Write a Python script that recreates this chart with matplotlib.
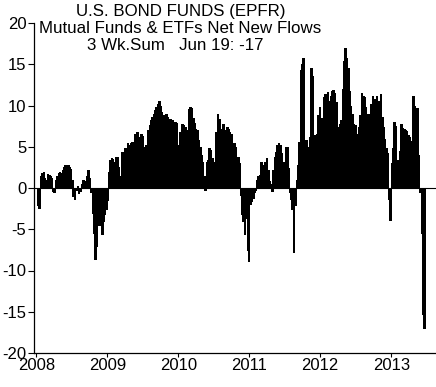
import matplotlib
matplotlib.use("Agg")
import matplotlib.pyplot as plt
import numpy as np
import pandas as pd

# Weekly 3-week-sum net new flows ($bn)
flows_2008 = [-2.0, -2.4, 1.5, 1.8, 1.9, 1.2, 1.0, 1.7, 1.6, 1.4, 1.2, -0.4, -0.5, 1.0, 1.4, 1.8,
              2.0, 1.8, 2.2, 2.6, 2.8, 2.7, 2.8, 2.6, 2.3, 1.0, -1.0, -1.3, -0.3, 0.3, -0.6, -0.4,
              0.5, 1.0, 0.8, 0.9, 1.5, 2.2, 1.2, -0.5, -3.0, -5.5, -8.6, -7.0, -4.5, -3.8, -4.5,
              -5.6, -4.0, -3.2, -2.5, -1.5]
flows_2009 = [2.0, 3.4, 3.6, 3.5, 3.2, 3.8, 3.8, 2.5, 1.4, 1.5, 4.4, 4.3, 4.8, 4.7, 5.4, 5.2,
              5.5, 5.6, 5.4, 6.6, 6.5, 6.8, 6.2, 6.0, 6.6, 6.3, 5.0, 5.2, 5.1, 7.0, 7.6, 8.2,
              8.6, 9.0, 9.4, 9.8, 10.2, 10.6, 10.0, 9.2, 8.8, 8.6, 9.0, 8.6, 8.3, 8.4, 7.9,
              8.3, 7.8, 8.0, 7.9, 5.2]
flows_2010 = [6.8, 6.8, 7.8, 7.6, 7.4, 7.0, 6.2, 9.6, 9.8, 9.7, 8.5, 7.9, 7.2, 7.0, 5.8, 5.0,
              4.0, 3.2, 1.5, -0.3, 3.2, 3.4, 4.8, 4.6, 3.6, 3.0, 3.2, 6.8, 9.0, 8.4, 7.2, 6.6,
              7.8, 6.8, 7.0, 7.4, 7.2, 6.8, 6.6, 4.4, 5.4, 5.0, 3.8, 3.8, 3.0, -0.8, -3.2,
              -4.0, -5.6, -3.6, -7.5, -8.8]
flows_2011 = [-1.9, -1.6, -1.2, -0.5, -0.2, 1.0, 1.4, 1.6, 3.2, 2.2, 2.8, 3.2, 3.6, 2.2, 0.9,
              0.5, -0.4, 2.2, 3.8, 4.4, 5.2, 5.4, 5.2, 4.2, 3.2, 3.2, 5.0, 5.0, 2.4, -0.5, -1.3,
              -2.5, -7.8, -2.0, 1.0, 2.8, 5.6, 14.3, 15.0, 15.7, 5.8, 5.8, 5.0, 5.0, 6.2, 14.5,
              13.6, 6.4, 6.2, 6.6, 8.9, 9.8]
flows_2012 = [7.8, 8.5, 11.0, 11.4, 11.0, 11.6, 10.6, 11.2, 11.8, 11.9, 11.5, 10.4, 7.4, 7.2,
              7.8, 8.3, 12.0, 15.4, 17.0, 15.8, 14.6, 11.8, 10.0, 9.0, 7.8, 7.6, 6.6, 4.7, 7.4,
              8.8, 11.5, 11.2, 11.0, 9.8, 9.0, 7.6, 9.0, 10.2, 11.2, 10.8, 10.4, 11.2, 10.6,
              10.2, 11.4, 8.6, 7.4, 6.0, 4.9, 4.2, -1.3, -3.9]
flows_2013 = [3.0, 4.8, 8.0, 7.5, 3.4, 3.2, 4.5, 7.7, 7.3, 7.2, 7.0, 6.9, 6.4, 6.2, 5.7, 4.6,
              11.1, 9.9, 9.7, 9.7, 4.0, -0.5, -5.4, -15.3, -17.0]

last_date = "2013-06-19"
year_ticks = ["2008", "2009", "2010", "2011", "2012", "2013"]
y_ticks = [20, 15, 10, 5, 0, -5, -10, -15, -20]

title_lines = ["U.S. BOND FUNDS (EPFR)",
               "Mutual Funds & ETFs Net New Flows",
               "3 Wk.Sum   Jun 19: -17"]

values = np.array(flows_2008 + flows_2009 + flows_2010 + flows_2011 + flows_2012 + flows_2013)
dates = pd.date_range(end=last_date, periods=len(values), freq="W-WED")

plt.rcParams["font.family"] = ["Liberation Sans", "DejaVu Sans"]

W, H = 436, 387
fig = plt.figure(figsize=(W / 100, H / 100), dpi=100)
ax = fig.add_axes([34 / W, 1 - 353 / H, 1 - 34 / W, (353 - 23) / H])

ax.bar(dates, values, width=8, color="black", edgecolor="black", linewidth=0.6,
       align="center", antialiased=False)
ax.axhline(0, color="black", lw=0.8)

ax.set_ylim(-20, 20)
ax.set_xlim(pd.Timestamp("2007-12-20"), pd.Timestamp("2013-08-19"))

ax.set_yticks(y_ticks)
ax.set_yticklabels([str(t) for t in y_ticks])
ax.set_xticks([pd.Timestamp(y + "-01-01") for y in year_ticks])
ax.set_xticklabels(year_ticks)

for s in ["top", "right"]:
    ax.spines[s].set_visible(False)
ax.spines["left"].set_linewidth(0.9)
ax.spines["bottom"].set_linewidth(0.9)
ax.tick_params(axis="y", direction="out", length=4, width=0.8, pad=1.5, labelsize=12)
ax.tick_params(axis="x", direction="out", length=3, width=0.8, pad=0.5, labelsize=12)

ys = [16, 33, 50]
xs = [181, 180.5, 175]
for t, xp, yp in zip(title_lines, xs, ys):
    fig.text(xp / W, 1 - yp / H, t, ha="center", va="baseline", fontsize=12.2)

fig.savefig("out.png", dpi=100)
